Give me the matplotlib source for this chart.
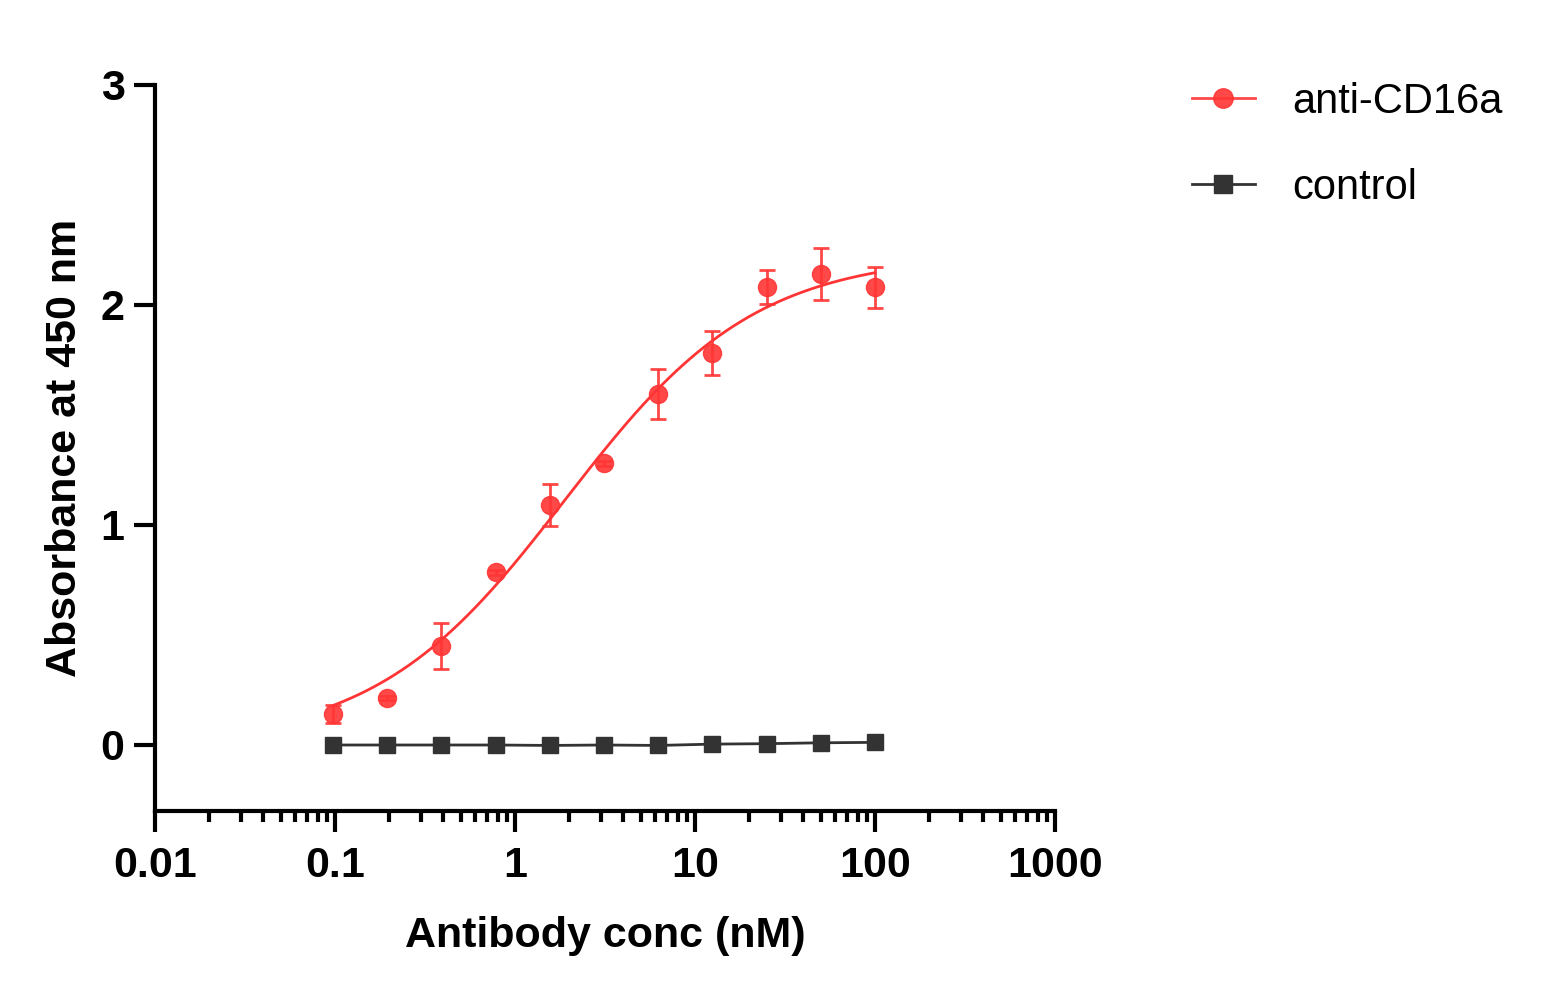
import numpy as np
import matplotlib.pyplot as plt
from matplotlib.ticker import LogLocator, FixedLocator, FixedFormatter, NullFormatter

plt.rcParams['font.family'] = ['Liberation Sans', 'DejaVu Sans']

# antibody concentrations (nM)
conc = [0.098, 0.195, 0.39, 0.78, 1.56, 3.125, 6.25, 12.5, 25, 50, 100]

# anti-CD16a absorbance and error
cd16a = [0.14, 0.215, 0.45, 0.785, 1.09, 1.28, 1.595, 1.78, 2.08, 2.14, 2.08]
cd16a_err = [0.04, 0.01, 0.105, 0.01, 0.095, 0.01, 0.115, 0.1, 0.077, 0.118, 0.093]

# control absorbance
control = [0.0, 0.0, 0.0, 0.0, -0.002, 0.0, -0.002, 0.004, 0.006, 0.01, 0.012]

# 4PL fit parameters for the anti-CD16a curve
fit_bottom = 0.0
fit_top = 2.23
fit_ec50 = 1.9
fit_hill = 0.82

xticks = [0.01, 0.1, 1, 10, 100, 1000]
xtick_labels = ['0.01', '0.1', '1', '10', '100', '1000']
yticks = [0, 1, 2, 3]

red = '#FF3535'
dark = '#333333'

fig = plt.figure(figsize=(15.5, 9.97), dpi=100)
ax = fig.add_axes([155 / 1550, 186 / 997, 900 / 1550, 726 / 997])

xs = np.logspace(np.log10(conc[0]), np.log10(conc[-1]), 300)
ys = fit_bottom + (fit_top - fit_bottom) / (1 + (fit_ec50 / xs) ** fit_hill)
ax.plot(xs, ys, color=red, lw=2)
ax.errorbar(conc, cd16a, yerr=cd16a_err, fmt='o', color=red, ms=13,
            ecolor=red, elinewidth=2, capsize=6, capthick=2, alpha=0.9, zorder=3)
ax.plot(conc, control, color=dark, lw=2, marker='s', ms=12, zorder=3)

ax.set_xscale('log')
ax.set_xlim(0.01, 1000)
ax.set_ylim(-0.3, 3)
ax.xaxis.set_major_locator(FixedLocator(xticks))
ax.xaxis.set_major_formatter(FixedFormatter(xtick_labels))
ax.xaxis.set_minor_locator(LogLocator(base=10, subs=np.arange(2, 10), numticks=20))
ax.xaxis.set_minor_formatter(NullFormatter())
ax.set_yticks(yticks)

for s in ['top', 'right']:
    ax.spines[s].set_visible(False)
for s in ['left', 'bottom']:
    ax.spines[s].set_linewidth(3)

ax.tick_params(axis='both', which='major', length=15, width=3, labelsize=31, pad=7)
ax.tick_params(axis='x', which='major', pad=10)
ax.tick_params(axis='x', which='minor', length=8, width=3)
for lab in ax.get_xticklabels() + ax.get_yticklabels():
    lab.set_fontweight('bold')

ax.set_xlabel('Antibody conc (nM)', fontsize=31, fontweight='bold', labelpad=22)
ax.set_ylabel('Absorbance at 450 nm', fontsize=31, fontweight='bold', labelpad=11)

h1, = ax.plot([], [], color=red, lw=2, marker='o', ms=14, alpha=0.9)
h2, = ax.plot([], [], color=dark, lw=2, marker='s', ms=13)
fig.legend([h1, h2], ['anti-CD16a', 'control'], loc='upper left',
           bbox_to_anchor=(1192 / 1550, 1 - 82 / 997), frameon=False,
           borderaxespad=0, borderpad=0,
           fontsize=30, handlelength=1.5, handletextpad=0.9, labelspacing=1.1)

fig.savefig('out.png', dpi=100)
